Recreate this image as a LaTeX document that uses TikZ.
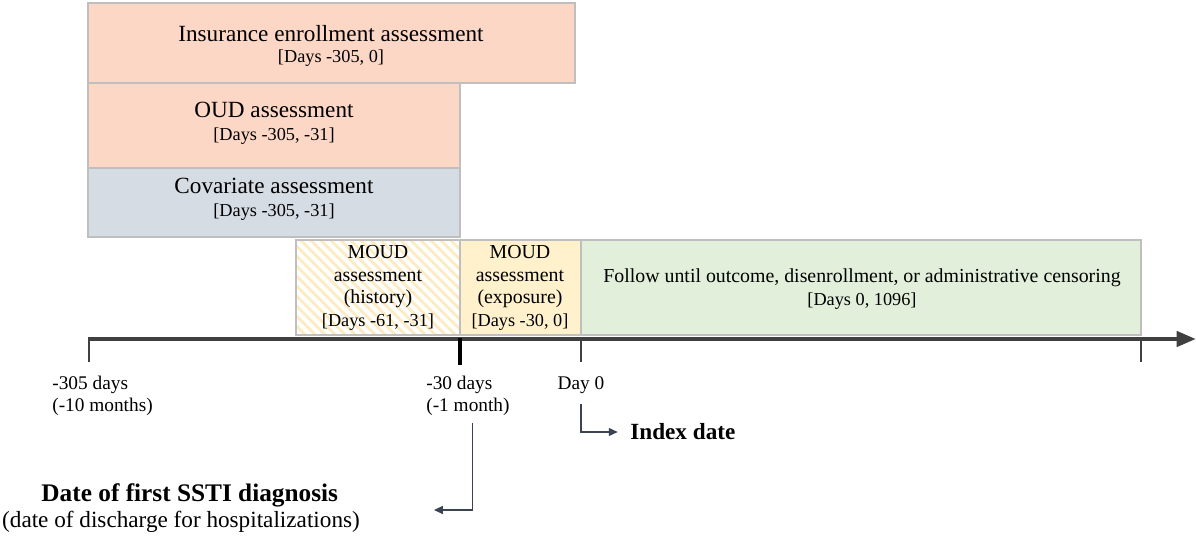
\documentclass[tikz,border=0pt]{standalone}
\usepackage{fontspec}
\setmainfont{Liberation Serif}
\usetikzlibrary{arrows.meta,patterns.meta}

\definecolor{peach}{HTML}{FCD7C6}
\definecolor{bluegray}{HTML}{D6DCE4}
\definecolor{lightyellow}{HTML}{FEF1CC}
\definecolor{stripeyellow}{HTML}{FDEBC2}
\definecolor{lightgreen}{HTML}{E2EFDA}
\definecolor{boxline}{HTML}{BFBFBF}
\definecolor{axisgray}{HTML}{404040}
\definecolor{ptrgray}{HTML}{3A4352}

\newcommand{\bigtxt}{\fontsize{13.2}{13}\selectfont}
\newcommand{\midtxt}{\fontsize{11.3}{12.9}\selectfont}
\newcommand{\smalltxt}{\fontsize{10.4}{12.9}\selectfont}

\tikzset{
  period/.style={draw=boxline, line width=1.1pt},
  boxtext/.style={align=center, inner sep=0pt},
  ticklabel/.style={align=left, inner sep=0pt, font=\fontsize{11}{12.9}\selectfont},
  ptr/.style={draw=ptrgray, line width=0.7pt, -{Triangle[length=5pt,width=4.5pt]}}
}

\begin{document}
\begin{tikzpicture}[x=0.02cm, y=-0.02cm]
        \useasboundingbox (0,0) rectangle (1196,536);

        % 评估窗口
        \draw[period, fill=peach] (88,3) rectangle (575,83);
        \draw[period, fill=peach] (88,83) rectangle (460,168);
        \draw[period, fill=bluegray] (88,168) rectangle (460,237);
        \fill[white] (296,240) rectangle (460,335);
        \fill[pattern={Lines[angle=-45,distance=4pt,line width=1.7pt]}, pattern color=stripeyellow] (296,240) rectangle (460,335);
        \draw[period] (296,240) rectangle (460,335);
        \draw[period, fill=lightyellow] (460,240) rectangle (581,335);
        \draw[period, fill=lightgreen] (581,240) rectangle (1141,335);

        \node[boxtext, font=\bigtxt] (ins) at (331,46) {Insurance enrollment assessment\\[-1.5pt]{\smalltxt[Days -305, 0]}};
        \node[boxtext, font=\bigtxt] (oud) at (274,123) {OUD assessment\\{\smalltxt[Days -305, -31]}};
        \node[boxtext, font=\bigtxt] (cov) at (274,199) {Covariate assessment\\{\smalltxt[Days -305, -31]}};
        \node[boxtext, font=\midtxt] (hist) at (378,288) {MOUD\\assessment\\(history)\\{\smalltxt[Days -61, -31]}};
        \node[boxtext, font=\midtxt] (expo) at (520,288) {MOUD\\assessment\\(exposure)\\{\smalltxt[Days -30, 0]}};
        \node[boxtext, font=\midtxt] (fol) at (862,289) {Follow until outcome, disenrollment, or administrative censoring\\{\smalltxt[Days 0, 1096]}};

        % 时间轴
        \coordinate (t0) at (88,339);
        \coordinate (tend) at (1196,339);
        \draw[line width=2.5pt, axisgray, -{Triangle[length=11pt,width=8.5pt]}] (t0) -- (tend);
        \draw[black, line width=2.4pt] (460,338) -- (460,365);
        \foreach \x in {89,581,1141}
            \draw[axisgray, line width=1.5pt] (\x,338) -- (\x,362);

        \node[ticklabel, anchor=west] (m305) at (52,396) {-305 days\\(-10 months)};
        \node[ticklabel, anchor=west] (m30) at (426,396) {-30 days\\(-1 month)};
        \node[ticklabel] (day0) at (581,385) {Day 0};
        \node[inner sep=0pt, anchor=west, font=\bfseries\bigtxt] (idx) at (630,432) {Index date};
        \node[align=center, inner sep=0pt, font=\bigtxt] (ssti) at (181,508) {\hspace*{10pt}{\fontsize{14.4}{14}\selectfont\bfseries Date of first SSTI diagnosis}\\[1.5pt](date of discharge for hospitalizations)};

        % 指示箭头
        \coordinate (sstiend) at (434,510);
        \draw[ptr] ([yshift=-6pt]day0.south) |- ([xshift=-7pt]idx.west);
        \draw[ptr] ([xshift=2.5pt,yshift=-4pt]m30.south) |- (sstiend);
    \end{tikzpicture}
\end{document}
